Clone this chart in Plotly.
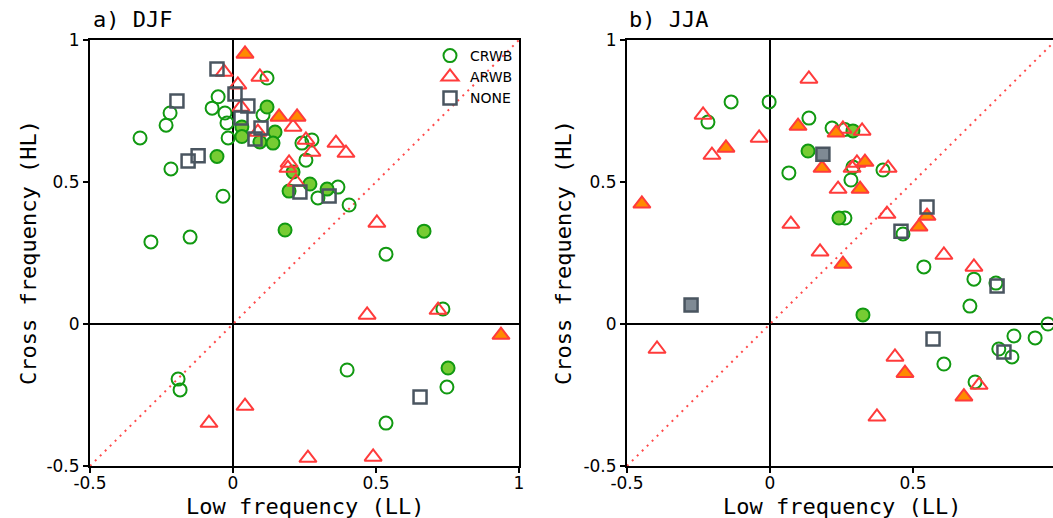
import plotly.graph_objects as go

# ---------------- data ----------------
# Panel a) DJF
djf_crwb_open_x = [-0.325, -0.22, -0.234, -0.217, -0.035, -0.287, -0.15, -0.052, -0.073, -0.028, -0.021, -0.017,
                   0.119, 0.105, 0.241, 0.276, 0.255, 0.297, 0.367, 0.406, 0.535, 0.734, -0.192, -0.185, 0.399,
                   0.748, 0.535]
djf_crwb_open_y = [0.655, 0.743, 0.70, 0.546, 0.45, 0.289, 0.306, 0.80, 0.76, 0.743, 0.708, 0.655,
                   0.866, 0.736, 0.637, 0.648, 0.577, 0.444, 0.482, 0.419, 0.246, 0.053, -0.194, -0.232, -0.162,
                   -0.222, -0.349]
djf_crwb_fill_x = [0.119, 0.031, 0.031, 0.094, 0.147, 0.14, -0.056, 0.196, 0.269, 0.329, 0.21, 0.182, 0.668, 0.752]
djf_crwb_fill_y = [0.764, 0.694, 0.66, 0.641, 0.676, 0.637, 0.59, 0.468, 0.493, 0.475, 0.535, 0.331, 0.327, -0.155]
djf_arwb_open_x = [-0.031, 0.017, 0.094, 0.028, 0.087, 0.21, 0.255, 0.276, 0.36, 0.395, 0.196, 0.192, 0.22,
                   0.503, 0.469, 0.717, -0.084, 0.042, 0.262, 0.49]
djf_arwb_open_y = [0.887, 0.842, 0.87, 0.764, 0.676, 0.694, 0.648, 0.606, 0.637, 0.602, 0.567, 0.549, 0.5,
                   0.356, 0.032, 0.049, -0.349, -0.289, -0.472, -0.468]
djf_arwb_fill_x = [0.042, 0.161, 0.224, 0.937]
djf_arwb_fill_y = [0.951, 0.729, 0.729, -0.039]
djf_none_open_x = [-0.056, -0.196, -0.157, -0.122, 0.007, 0.052, 0.028, 0.098, 0.077, 0.234, 0.336, 0.654]
djf_none_open_y = [0.898, 0.785, 0.574, 0.592, 0.81, 0.768, 0.725, 0.69, 0.651, 0.465, 0.451, -0.257]

# Panel b) JJA
jja_crwb_open_x = [-0.136, -0.003, -0.217, 0.136, 0.066, 0.217, 0.262, 0.283, 0.395, 0.29, 0.262, 0.465, 0.538,
                   0.713, 0.79, 0.699, 0.972, 0.853, 0.927, 0.8, 0.846, 0.608, 0.717]
jja_crwb_open_y = [0.782, 0.782, 0.711, 0.725, 0.532, 0.69, 0.685, 0.507, 0.542, 0.553, 0.373, 0.317, 0.201,
                   0.158, 0.144, 0.063, 0.0, -0.042, -0.049, -0.088, -0.116, -0.141, -0.204]
jja_crwb_fill_x = [0.133, 0.241, 0.29, 0.325]
jja_crwb_fill_y = [0.609, 0.373, 0.68, 0.032]
jja_arwb_open_x = [-0.234, -0.038, -0.203, 0.136, 0.238, 0.073, 0.175, 0.255, 0.322, 0.287, 0.304, 0.413, 0.409,
                   0.608, 0.713, -0.395, 0.437, 0.374, 0.731]
jja_arwb_open_y = [0.736, 0.655, 0.595, 0.863, 0.475, 0.352, 0.254, 0.687, 0.68, 0.549, 0.567, 0.549, 0.387,
                   0.243, 0.201, -0.088, -0.116, -0.327, -0.215]
jja_arwb_fill_x = [-0.448, -0.154, 0.098, 0.182, 0.231, 0.332, 0.315, 0.521, 0.549, 0.255, 0.472, 0.678]
jja_arwb_fill_y = [0.423, 0.62, 0.697, 0.549, 0.673, 0.57, 0.475, 0.342, 0.38, 0.211, -0.173, -0.256]
jja_none_open_x = [0.549, 0.458, 0.57, 0.794, 0.818]
jja_none_open_y = [0.412, 0.327, -0.053, 0.134, -0.099]
jja_none_fill_x = [-0.276, 0.185]
jja_none_fill_y = [0.067, 0.598]

diag_x = [-0.5, 1.0]
diag_y = [-0.5, 1.0]

tick_vals = [-0.5, 0, 0.5, 1]
tick_text = ["-0.5", "0", "0.5", "1"]

panel_titles = ["a) DJF", "b) JJA"]
x_title = "Low frequency (LL)"
y_title = "Cross frequency (HL)"

# ---------------- styles ----------------
GREEN = "#119911"
GREEN_FILL = "#77cc33"
RED = "#ff3b3b"
ORANGE = "#ff8a00"
SLATE = "#4a5560"
SLATE_FILL = "#7f8a94"

sty = {
    "crwb_open": dict(symbol="circle-open", size=13, color=GREEN, line=dict(width=2, color=GREEN)),
    "crwb_fill": dict(symbol="circle", size=13, color=GREEN_FILL, line=dict(width=2, color=GREEN)),
    "arwb_open": dict(symbol="triangle-up-open", size=15, color=RED, line=dict(width=2, color=RED)),
    "arwb_fill": dict(symbol="triangle-up", size=15, color=ORANGE, line=dict(width=2, color=RED)),
    "none_open": dict(symbol="square-open", size=13, color=SLATE, line=dict(width=2.5, color=SLATE)),
    "none_fill": dict(symbol="square", size=13, color=SLATE_FILL, line=dict(width=2.5, color=SLATE)),
}

fig = go.Figure()


def add(x, y, key, xa, ya, name=None, legend=False):
    fig.add_trace(go.Scatter(x=x, y=y, mode="markers", marker=sty[key], xaxis=xa, yaxis=ya,
                             name=name, showlegend=legend, hoverinfo="skip"))


for xa, ya in (("x", "y"), ("x2", "y2")):
    fig.add_trace(go.Scatter(x=diag_x, y=diag_y, mode="lines", xaxis=xa, yaxis=ya,
                             line=dict(color="#ff4a4a", width=2, dash="2px,5px"),
                             showlegend=False, hoverinfo="skip"))

add(djf_crwb_open_x, djf_crwb_open_y, "crwb_open", "x", "y", "CRWB", True)
add(djf_crwb_fill_x, djf_crwb_fill_y, "crwb_fill", "x", "y")
add(djf_arwb_open_x, djf_arwb_open_y, "arwb_open", "x", "y", "ARWB", True)
add(djf_arwb_fill_x, djf_arwb_fill_y, "arwb_fill", "x", "y")
add(djf_none_open_x, djf_none_open_y, "none_open", "x", "y", "NONE", True)

add(jja_crwb_open_x, jja_crwb_open_y, "crwb_open", "x2", "y2")
add(jja_crwb_fill_x, jja_crwb_fill_y, "crwb_fill", "x2", "y2")
add(jja_arwb_open_x, jja_arwb_open_y, "arwb_open", "x2", "y2")
add(jja_arwb_fill_x, jja_arwb_fill_y, "arwb_fill", "x2", "y2")
add(jja_none_open_x, jja_none_open_y, "none_open", "x2", "y2")
add(jja_none_fill_x, jja_none_fill_y, "none_fill", "x2", "y2")

W, H = 1053, 518
TOP, BOT = 40, 52
plot_h = H - TOP - BOT

axis_common = dict(showgrid=False, zeroline=True, zerolinecolor="black", zerolinewidth=1.5,
                   showline=True, linecolor="black", linewidth=2, ticks="outside", ticklen=5,
                   tickwidth=2, tickcolor="black", tickvals=tick_vals, ticktext=tick_text,
                   automargin=False,
                   tickfont=dict(family="DejaVu Sans", size=17, color="black"))

fig.update_layout(
    width=W, height=H,
    margin=dict(l=0, r=0, t=TOP, b=BOT, autoexpand=False),
    paper_bgcolor="white", plot_bgcolor="white",
    xaxis=dict(domain=[90 / W, 519 / W], range=[-0.5, 1.0], anchor="y", mirror=True,
               ticklabelstandoff=-4, **axis_common),
    yaxis=dict(domain=[0, 1], range=[-0.5, 1.0], anchor="x", mirror=True, **axis_common),
    xaxis2=dict(domain=[627 / W, 1.0], range=[-0.5, (W - 770) / 286], anchor="y2", mirror=True,
                ticklabelstandoff=-4, **axis_common),
    yaxis2=dict(domain=[0, 1], range=[-0.5, 1.0], anchor="x2", mirror=False, **axis_common),
    legend=dict(x=430 / W, y=1.0, xanchor="left", yanchor="top", bgcolor="rgba(0,0,0,0)",
                font=dict(family="DejaVu Sans", size=14, color="black"), tracegroupgap=0,
                itemwidth=30),
    font=dict(family="DejaVu Sans Mono", color="black"),
)

tfont = dict(family="DejaVu Sans Mono", size=22, color="black")
ann = []
ann.append(dict(text=panel_titles[0], x=91 / W, y=(H - BOT - 20) / plot_h, xref="paper", yref="paper",
                xanchor="left", yanchor="middle", showarrow=False, font=tfont))
ann.append(dict(text=panel_titles[1], x=627 / W, y=(H - BOT - 20) / plot_h, xref="paper", yref="paper",
                xanchor="left", yanchor="middle", showarrow=False, font=tfont))
for cx in (304.5, 841.5):
    ann.append(dict(text=x_title, x=cx / W, y=(H - BOT - 506) / plot_h, xref="paper", yref="paper",
                    xanchor="center", yanchor="middle", showarrow=False, font=tfont))
for cx in (28, 563):
    ann.append(dict(text=y_title, x=cx / W, y=0.5, xref="paper", yref="paper", textangle=-90,
                    xanchor="center", yanchor="middle", showarrow=False, font=tfont))
fig.update_layout(annotations=ann)

fig.write_html("out.html")
